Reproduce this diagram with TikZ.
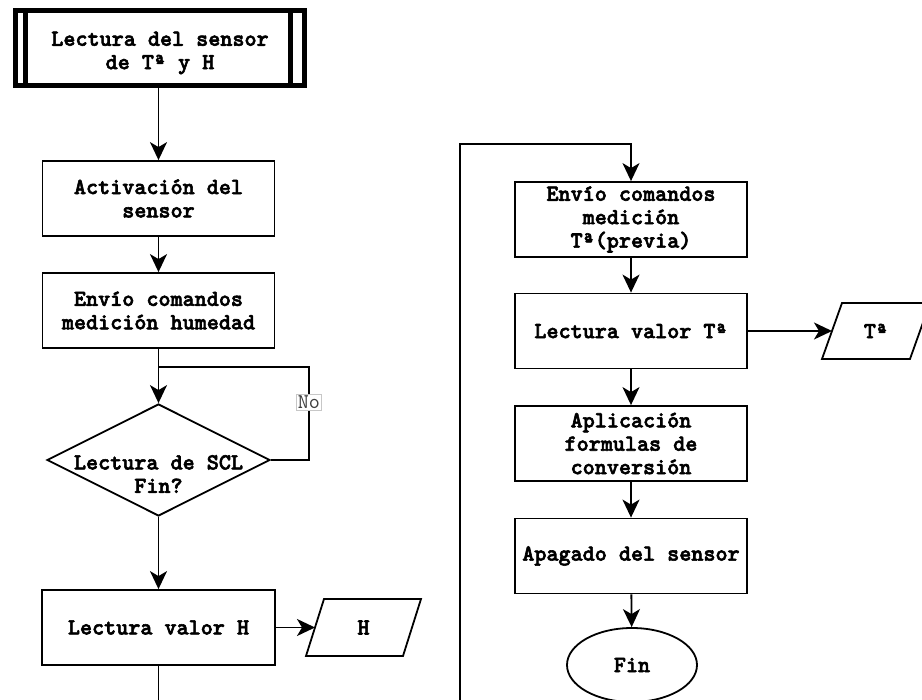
\documentclass[tikz,border=0pt]{standalone}
\usepackage{fontspec}
\newfontfamily\courbold{lmmonolt10-bold.otf}[FakeBold=2.5]
\newfontfamily\courreg{lmmono10-regular.otf}
\usetikzlibrary{arrows.meta,shapes.geometric}
\tikzset{
  txtfont/.style={font={\courbold\fontsize{23}{23.4}\selectfont}},
  procbox/.style={draw, line width=1.8pt, minimum width=232pt, minimum height=75pt,
    align=center, inner sep=2pt, txtfont},
  decision/.style={draw, diamond, line width=1.8pt, minimum width=223pt,
    minimum height=112pt, inner sep=0pt},
  iobox/.style={minimum height=#1, outer sep=0pt, inner sep=0pt, txtfont},
  terminal/.style={draw, ellipse, line width=1.8pt, minimum width=130pt,
    minimum height=74pt, inner sep=0pt, txtfont},
  wire/.style={line width=1.8pt},
  flow/.style={line width=1.8pt, -{Stealth[length=18pt,width=17pt,inset=5pt]}},
  nolabel/.style={draw=black!22, line width=0.8pt, fill=white, inner sep=1.5pt,
    text=black!75, font={\courreg\fontsize{21}{22}\selectfont}},
}
\begin{document}
\begin{tikzpicture}[x=1pt, y=-1pt]
  \path[use as bounding box, fill=white] (0,0) rectangle (922,700);
  \clip (0,0) rectangle (922,700);

  % start block: thick frame with two inner bars
  \node[draw, line width=5pt, minimum width=289.5pt, minimum height=75pt,
        outer sep=0pt] (start) at (160,48) {};
  \node[txtfont, align=center, inner sep=0pt] (starttxt) at (160,53)
        {Lectura del sensor\\de Tª y H};
  \draw[line width=5pt] ([xshift=10.5pt]start.north west) -- ([xshift=10.5pt]start.south west);
  \draw[line width=5pt] ([xshift=-14.5pt]start.north east) -- ([xshift=-14.5pt]start.south east);

  % left column
  \node[procbox] (act) at (158.5,198.5) {Activación del\\sensor};
  \node[procbox] (envh) at (158.5,310.5) {Envío comandos\\medición humedad};
  \coordinate (join) at (158.5,367);
  \node[decision] (dec) at (158.5,460) {};
  \node[txtfont, align=center, inner sep=0pt] (dectxt) at (158.5,474) {Lectura de SCL\\Fin?};
  \node[procbox, minimum width=233pt] (valh) at (158.5,627.5) {Lectura valor H};

  % output H
  \node[iobox=57pt, minimum width=97pt] (outh) at (363.5,627.5) {H};
  \draw[wire] ([xshift=9pt]outh.north west) -- ([xshift=9pt]outh.north east)
    -- ([xshift=-9pt]outh.south east) -- ([xshift=-9pt]outh.south west) -- cycle;

  \coordinate (lbot) at (158.5,700);

  % right column
  \coordinate (rbot) at (460,700);
  \coordinate (rtop) at (460,144);
  \node[procbox] (envt) at (631,219.5) {Envío comandos\\medición\\Tª(previa)};
  \node[procbox] (valt) at (631,331) {Lectura valor Tª};
  \node[procbox] (conv) at (631,443.5) {Aplicación\\formulas de\\conversión};
  \node[procbox] (off) at (631,556) {Apagado del sensor};
  \node[terminal] (fin) at (632,665) {Fin};

  % output T
  \node[iobox=56pt, minimum width=88pt] (outt) at (876,331) {Tª};
  \draw[wire] ([xshift=10pt]outt.north west) -- ([xshift=10pt]outt.north east)
    -- ([xshift=-10pt]outt.south east) -- ([xshift=-10pt]outt.south west) -- cycle;

  % connectors
  \draw[flow] (start.south -| act.north) -- (act.north);
  \draw[flow] (act) -- (envh);
  \draw[wire] (envh.south) -- (join);
  \draw[flow] (join) -- (dec.north);
  \draw[wire] (dec.east) -- ++(38,0) |- (join) node[pos=0.31, nolabel] (no) {No};
  \draw[flow] (dec.south) -- (valh.north);
  \draw[flow] (valh.east) -- (outh.west);
  \draw[wire] (valh.south) -- (lbot);

  \draw[flow] (rbot) -- (rtop) -| (envt.north);
  \draw[flow] (envt) -- (valt);
  \draw[flow] (valt.east) -- (outt.west);
  \draw[flow] (valt) -- (conv);
  \draw[flow] (conv) -- (off);
  \draw[flow] (off) -- (fin);
\end{tikzpicture}
\end{document}
